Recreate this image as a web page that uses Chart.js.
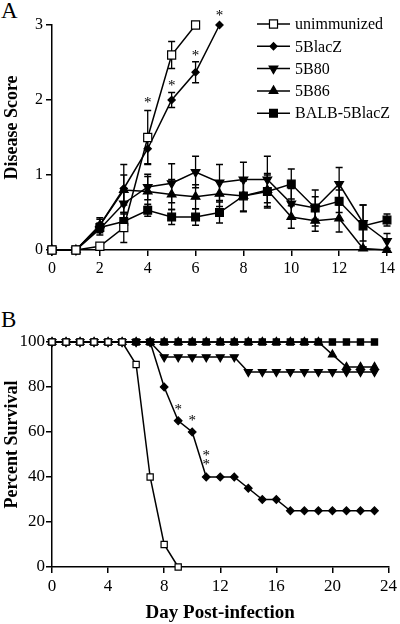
<!DOCTYPE html>
<html lang="en">
<head>
<meta charset="UTF-8">
<title>Disease score and survival</title>
<script src="https://cdn.jsdelivr.net/npm/chart.js"></script>
<style>
  body { margin: 0; background: #fff; }
  #wrap { position: relative; width: 400px; height: 624px; font-family: "Liberation Serif", serif; }
  .panel { position: absolute; left: 1px; font-size: 23px; line-height: 1; }
  canvas { position: absolute; left: 0; }
</style>
</head>
<body>
<div id="wrap">
  <div class="panel" style="top:-1px">A</div>
  <canvas id="chartA" width="400" height="290" style="top:0"></canvas>
  <div class="panel" style="top:308px">B</div>
  <canvas id="chartB" width="400" height="332" style="top:292px"></canvas>
</div>

<script>
// groups (same order in both panels)
const groups = ['unimmunized', '5BlacZ', '5B80', '5B86', 'BALB-5BlacZ'];

// Panel A - disease score (mean +/- error) by day
const daysA = [0, 1, 2, 3, 4, 5, 6, 7, 8, 9, 10, 11, 12, 13, 14];
const scoreUnimm = [0, 0, 0.05, 0.3, 1.5, 2.6, 3.0];
const errUnimm   = [0, 0, 0.02, 0.2, 0.36, 0.18, 0];
const scoreLacZ  = [0, 0, 0.33, 0.82, 1.35, 2.0, 2.37, 3.0];
const errLacZ    = [0, 0, 0.1, 0.32, 0.2, 0.1, 0.14, 0];
const score5B80  = [0, 0, 0.28, 0.62, 0.84, 0.89, 1.04, 0.9, 0.94, 0.94, 0.62, 0.56, 0.88, 0.36, 0.12];
const err5B80    = [0, 0, 0.08, 0.2, 0.17, 0.26, 0.21, 0.24, 0.23, 0.31, 0.2, 0.24, 0.22, 0.24, 0.1];
const score5B86  = [0, 0, 0.33, 0.8, 0.78, 0.74, 0.71, 0.75, 0.72, 0.8, 0.44, 0.39, 0.42, 0.02, 0];
const err5B86    = [0, 0, 0.08, 0.2, 0.2, 0.2, 0.16, 0.17, 0.21, 0.22, 0.15, 0.14, 0.18, 0.02, 0];
const scoreBalb  = [0, 0, 0.3, 0.38, 0.53, 0.44, 0.44, 0.5, 0.72, 0.78, 0.88, 0.56, 0.65, 0.32, 0.4];
const errBalb    = [0, 0, 0.05, 0.1, 0.08, 0.1, 0.11, 0.14, 0.2, 0.22, 0.2, 0.15, 0.15, 0.28, 0.08];
const starsA = [[4, 2.0], [5, 2.22], [6, 2.62], [7, 3.16]];

// Panel B - percent survival by day
const daysB = [0, 1, 2, 3, 4, 5, 6, 7, 8, 9, 10, 11, 12, 13, 14, 15, 16, 17, 18, 19, 20, 21, 22, 23];
const survUnimm = [100, 100, 100, 100, 100, 100, 90, 40, 10, 0];
const survLacZ  = [100, 100, 100, 100, 100, 100, 100, 100, 80, 65, 60, 40, 40, 40, 35, 30, 30, 25, 25, 25, 25, 25, 25, 25];
const surv5B80  = [100, 100, 100, 100, 100, 100, 100, 100, 93.3, 93.3, 93.3, 93.3, 93.3, 93.3, 86.7, 86.7, 86.7, 86.7, 86.7, 86.7, 86.7, 86.7, 86.7, 86.7];
const surv5B86  = [100, 100, 100, 100, 100, 100, 100, 100, 100, 100, 100, 100, 100, 100, 100, 100, 100, 100, 100, 100, 94.4, 88.9, 88.9, 88.9];
const survBalb  = [100, 100, 100, 100, 100, 100, 100, 100, 100, 100, 100, 100, 100, 100, 100, 100, 100, 100, 100, 100, 100, 100, 100, 100];
const starsB = [[9, 71], [10, 66], [11, 50.8], [11, 46.8]];

const FONT = "'Liberation Serif', 'Times New Roman', serif";

// marker look for each group
const markers = [
    { pointStyle: 'rect', rotation: 0, fill: '#fff', radA: 5.7, radB: 4.4 },
    { pointStyle: 'rectRot', rotation: 0, fill: '#000', radA: 3.6, radB: 3.8 },
    { pointStyle: 'triangle', rotation: 180, fill: '#000', radA: 5, radB: 4.6 },
    { pointStyle: 'triangle', rotation: 0, fill: '#000', radA: 5, radB: 4.6 },
    { pointStyle: 'rect', rotation: 0, fill: '#000', radA: 5.5, radB: 4.4 }
];

function makeSeries(i, days, values, errors, radius) {
    const m = markers[i];
    return {
        label: groups[i],
        data: values.map((v, k) => ({ x: days[k], y: v })),
        errors: errors,
        borderColor: '#000',
        borderWidth: 1.5,
        pointStyle: m.pointStyle,
        pointRotation: m.rotation,
        pointRadius: radius,
        pointBackgroundColor: m.fill,
        pointBorderColor: '#000',
        pointBorderWidth: 1.2,
        tension: 0,
        fill: false,
        clip: false
    };
}

// error bars under the markers
const errorBars = {
    id: 'errorBars',
    beforeDatasetsDraw(chart) {
        const { ctx, scales: { x, y } } = chart;
        ctx.save();
        ctx.strokeStyle = '#000';
        ctx.lineWidth = 1.3;
        chart.data.datasets.forEach(ds => {
            if (!ds.errors) return;
            ds.data.forEach((p, k) => {
                const e = ds.errors[k];
                if (!e) return;
                const px = x.getPixelForValue(p.x);
                const top = y.getPixelForValue(p.y + e);
                const bot = y.getPixelForValue(Math.max(0, p.y - e));
                ctx.beginPath();
                ctx.moveTo(px, top); ctx.lineTo(px, bot);
                ctx.moveTo(px - 3.5, top); ctx.lineTo(px + 3.5, top);
                ctx.moveTo(px - 3.5, bot); ctx.lineTo(px + 3.5, bot);
                ctx.stroke();
            });
        });
        ctx.restore();
    }
};

// significance asterisks and rotated y title
const extras = {
    id: 'extras',
    afterDraw(chart, args, opts) {
        const { ctx, chartArea, scales: { x, y } } = chart;
        ctx.save();
        ctx.fillStyle = '#000';
        ctx.font = '15px ' + FONT;
        ctx.textAlign = 'center';
        ctx.textBaseline = 'middle';
        (opts.stars || []).forEach(s => {
            ctx.fillText('*', x.getPixelForValue(s[0]), y.getPixelForValue(s[1]) + 3);
        });
        if (opts.yTitle) {
            ctx.translate(12, (chartArea.top + chartArea.bottom) / 2 + (opts.yShift || 0));
            ctx.rotate(-Math.PI / 2);
            ctx.font = 'bold 18px ' + FONT;
            ctx.fillText(opts.yTitle, 0, 0);
        }
        ctx.restore();
    }
};

// legend drawn inside panel A
const legendBox = {
    id: 'legendBox',
    afterDraw(chart, args, opts) {
        if (!opts.show) return;
        const ctx = chart.ctx;
        ctx.save();
        chart.data.datasets.forEach((ds, i) => {
            const yy = opts.top + i * opts.gap;
            ctx.strokeStyle = '#000';
            ctx.lineWidth = 1.5;
            ctx.beginPath();
            ctx.moveTo(opts.left, yy);
            ctx.lineTo(opts.left + 33, yy);
            ctx.stroke();
            ctx.fillStyle = ds.pointBackgroundColor;
            ctx.lineWidth = 1.2;
            Chart.helpers.drawPoint(ctx, {
                pointStyle: ds.pointStyle,
                rotation: ds.pointRotation,
                radius: ds.pointRadius,
                borderWidth: 1.2
            }, opts.left + 16.5, yy);
            ctx.fillStyle = '#000';
            ctx.font = '16px ' + FONT;
            ctx.textAlign = 'left';
            ctx.textBaseline = 'middle';
            ctx.fillText(ds.label, opts.left + 38, yy + 1);
        });
        ctx.restore();
    }
};

function axis(min, max, step, size, fit) {
    return {
        type: 'linear',
        min: min,
        max: max,
        ticks: { stepSize: step, color: '#000', font: { family: FONT, size: size }, padding: 3 },
        grid: { drawOnChartArea: false, color: '#000', lineWidth: 1.5, tickLength: 6 },
        border: { color: '#000', width: 1.5 },
        afterFit: fit
    };
}

const dsA = [
    makeSeries(0, daysA, scoreUnimm, errUnimm, markers[0].radA),
    makeSeries(1, daysA, scoreLacZ, errLacZ, markers[1].radA),
    makeSeries(2, daysA, score5B80, err5B80, markers[2].radA),
    makeSeries(3, daysA, score5B86, err5B86, markers[3].radA),
    makeSeries(4, daysA, scoreBalb, errBalb, markers[4].radA)
];

new Chart(document.getElementById('chartA'), {
    type: 'line',
    data: { datasets: dsA },
    options: {
        responsive: false,
        animation: false,
        layout: { padding: { top: 25, right: 13, left: 0, bottom: 0 } },
        scales: {
            x: axis(0, 14, 2, 16, s => { s.height = 40; }),
            y: axis(0, 3, 1, 16, s => { s.width = 52; })
        },
        plugins: {
            legend: { display: false },
            tooltip: { enabled: false },
            extras: { stars: starsA, yTitle: 'Disease Score', yShift: -10 },
            legendBox: { show: true, left: 257, top: 24, gap: 22.3 }
        }
    },
    plugins: [errorBars, extras, legendBox]
});

const dsB = [
    makeSeries(0, daysB, survUnimm, null, markers[0].radB),
    makeSeries(1, daysB, survLacZ, null, markers[1].radB),
    makeSeries(2, daysB, surv5B80, null, markers[2].radB),
    makeSeries(3, daysB, surv5B86, null, markers[3].radB),
    makeSeries(4, daysB, survBalb, null, markers[4].radB)
];

const xB = axis(0, 24, 4, 17, s => { s.height = 57; });
xB.title = { display: true, text: 'Day Post-infection', color: '#000', font: { family: FONT, size: 19, weight: 'bold' }, padding: { top: 0, bottom: 0 } };
const yB = axis(0, 100, 20, 17, s => { s.width = 52; });
yB.ticks.padding = 1;

new Chart(document.getElementById('chartB'), {
    type: 'line',
    data: { datasets: dsB },
    options: {
        responsive: false,
        animation: false,
        layout: { padding: { top: 50, right: 7, left: 0, bottom: 0 } },
        scales: { x: xB, y: yB },
        plugins: {
            legend: { display: false },
            tooltip: { enabled: false },
            extras: { stars: starsB, yTitle: 'Percent Survival', yShift: -10 },
            legendBox: { show: false }
        }
    },
    plugins: [errorBars, extras, legendBox]
});
</script>
</body>
</html>
